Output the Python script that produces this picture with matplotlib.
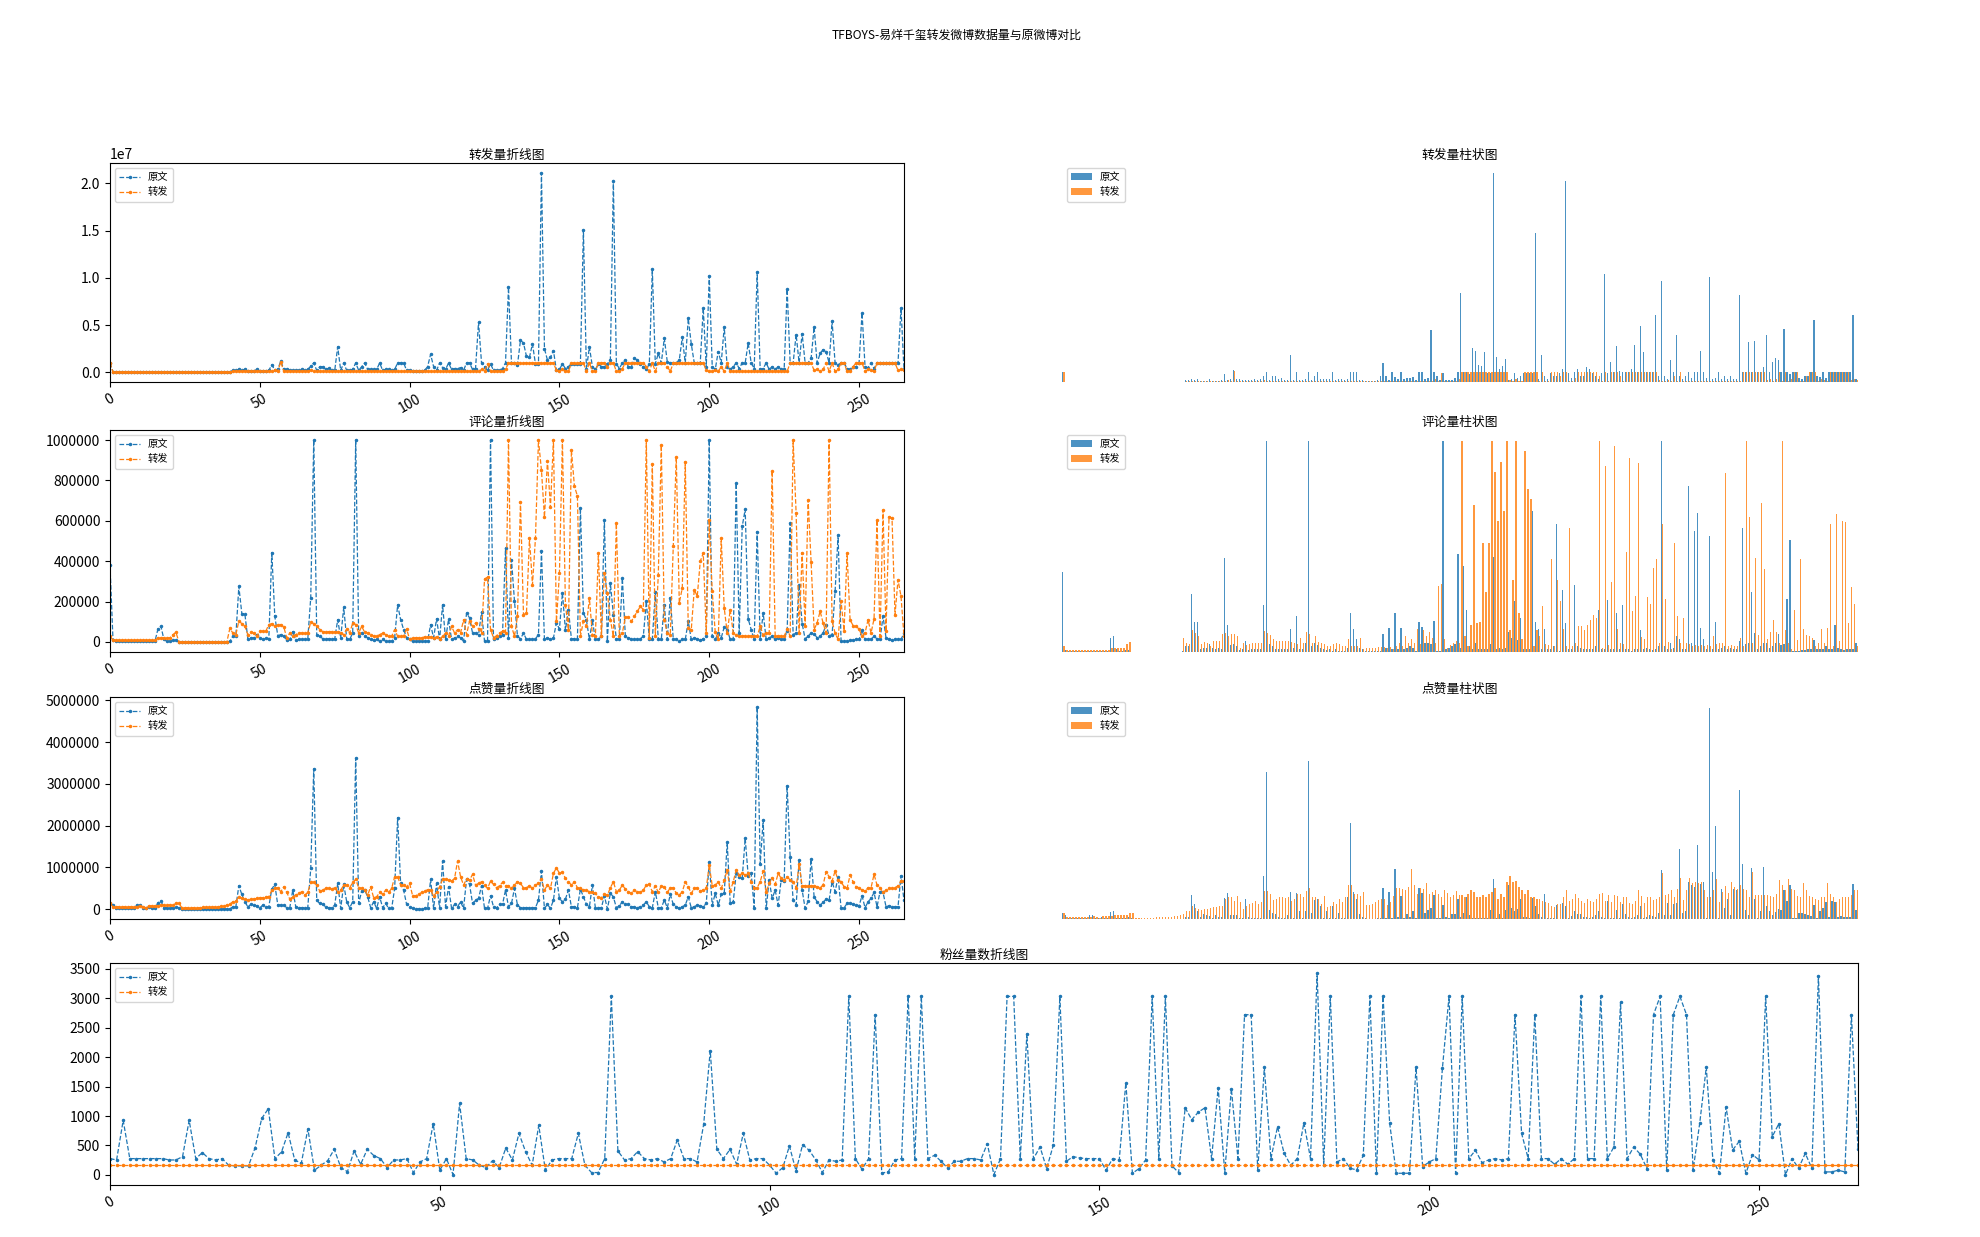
import numpy as np
import matplotlib
matplotlib.use('Agg')
import matplotlib.pyplot as plt
from matplotlib.ticker import MultipleLocator

plt.rcParams['font.family'] = ['Noto Sans CJK SC', 'DejaVu Sans']
plt.rcParams['axes.unicode_minus'] = False

series_names = ['原文', '转发']
suptitle_text = 'TFBOYS-易烊千玺转发微博数据量与原微博对比'
line_titles = ['转发量折线图', '评论量折线图', '点赞量折线图']
bar_titles = ['转发量柱状图', '评论量柱状图', '点赞量柱状图']
fans_title = '粉丝量数折线图'

# 转发量 (unit: 1e4)
repost_orig = [
    100, 5, 5, 5, 5, 5, 5, 5, 5, 5,
    5, 5, 5, 5, 5, 5, 5, 5, 5, 5,
    5, 5, 5, 5, 5, 5, 5, 5, 5, 5,
    5, 5, 5, 5, 5, 5, 5, 5, 5, 5,
    5, 20, 20, 30, 25, 30, 15, 15, 15, 30,
    15, 15, 15, 20, 80, 25, 30, 120, 30, 30,
    20, 20, 20, 20, 30, 20, 30, 65, 100, 20,
    60, 60, 30, 45, 20, 20, 270, 20, 100, 20,
    20, 30, 100, 20, 60, 100, 30, 30, 30, 30,
    100, 20, 30, 30, 20, 30, 100, 100, 100, 20,
    20, 15, 10, 10, 10, 20, 60, 190, 60, 20,
    100, 50, 30, 100, 30, 40, 40, 50, 20, 100,
    100, 30, 40, 530, 100, 60, 20, 90, 20, 20,
    20, 40, 100, 900, 100, 100, 80, 340, 310, 170,
    160, 300, 90, 90, 2110, 250, 130, 160, 230, 20,
    30, 90, 40, 60, 90, 90, 90, 90, 1510, 30,
    270, 60, 30, 90, 60, 60, 90, 130, 2030, 90,
    40, 100, 130, 60, 60, 150, 130, 90, 60, 30,
    90, 1090, 90, 200, 100, 360, 110, 100, 100, 100,
    130, 370, 100, 570, 300, 100, 100, 100, 680, 60,
    1020, 60, 30, 220, 100, 480, 60, 30, 60, 100,
    40, 100, 100, 310, 100, 40, 1060, 30, 40, 100,
    30, 60, 30, 60, 30, 30, 880, 100, 100, 400,
    100, 410, 100, 100, 150, 480, 100, 200, 240, 220,
    100, 540, 100, 80, 100, 100, 40, 30, 60, 60,
    100, 630, 60, 50, 100, 40, 100, 100, 100, 100,
    100, 100, 100, 100, 680, 30,
]
repost_fwd = [
    100, 3, 3, 3, 3, 3, 3, 3, 3, 3,
    3, 3, 3, 3, 3, 3, 3, 3, 3, 3,
    3, 3, 3, 3, 3, 3, 3, 3, 3, 3,
    3, 3, 3, 3, 3, 3, 3, 3, 3, 3,
    3, 10, 10, 10, 10, 10, 10, 10, 10, 10,
    10, 10, 10, 10, 10, 20, 10, 110, 10, 10,
    10, 10, 10, 10, 10, 10, 10, 20, 10, 10,
    10, 10, 10, 10, 10, 10, 10, 10, 10, 10,
    10, 10, 10, 10, 10, 10, 10, 10, 10, 10,
    10, 10, 10, 10, 10, 10, 10, 10, 10, 10,
    10, 10, 10, 10, 10, 10, 10, 10, 10, 10,
    10, 10, 10, 10, 10, 10, 10, 10, 10, 10,
    10, 10, 10, 10, 30, 10, 90, 10, 10, 10,
    10, 10, 30, 100, 100, 100, 100, 100, 100, 100,
    100, 100, 100, 100, 100, 100, 100, 100, 100, 20,
    10, 30, 10, 10, 100, 100, 100, 100, 100, 10,
    100, 10, 10, 100, 100, 100, 60, 100, 100, 10,
    10, 40, 100, 100, 100, 100, 100, 100, 100, 60,
    10, 100, 10, 100, 100, 100, 60, 10, 100, 100,
    100, 100, 100, 100, 100, 100, 100, 100, 100, 20,
    10, 10, 20, 10, 60, 10, 100, 10, 10, 10,
    10, 10, 10, 10, 10, 10, 10, 10, 10, 10,
    10, 10, 10, 10, 10, 10, 10, 100, 100, 100,
    100, 100, 100, 100, 100, 20, 30, 10, 30, 100,
    10, 100, 10, 30, 100, 100, 10, 10, 60, 100,
    100, 100, 10, 30, 20, 10, 100, 100, 100, 100,
    100, 100, 100, 20, 30, 20,
]

# 评论量 (unit: 1e3)
comment_orig = [
    380, 8, 3, 3, 3, 3, 3, 3, 3, 3,
    3, 3, 3, 3, 3, 3, 64, 77, 12, 3,
    3, 8, 8, 0, 0, 0, 0, 0, 0, 0,
    0, 0, 0, 0, 0, 0, 0, 0, 0, 0,
    3, 28, 28, 275, 140, 140, 16, 20, 20, 36,
    20, 12, 20, 12, 443, 127, 31, 36, 28, 8,
    12, 51, 8, 12, 12, 12, 12, 220, 1000, 36,
    28, 16, 15, 15, 15, 15, 110, 20, 171, 15,
    12, 44, 1000, 28, 44, 31, 20, 15, 8, 12,
    3, 12, 3, 3, 3, 20, 184, 110, 61, 20,
    12, 3, 3, 3, 3, 3, 3, 86, 20, 115,
    12, 184, 12, 113, 12, 20, 28, 20, 3, 143,
    119, 44, 44, 36, 147, 3, 3, 1000, 12, 20,
    28, 36, 464, 20, 407, 201, 28, 15, 44, 12,
    12, 12, 15, 36, 448, 12, 20, 12, 20, 94,
    64, 242, 58, 160, 15, 15, 12, 665, 143, 110,
    12, 107, 12, 12, 28, 604, 3, 292, 135, 16,
    12, 316, 28, 20, 15, 12, 12, 15, 28, 201,
    12, 12, 245, 12, 12, 184, 12, 220, 12, 12,
    3, 12, 12, 102, 12, 20, 15, 8, 15, 28,
    1000, 28, 12, 44, 20, 74, 61, 12, 12, 786,
    44, 572, 657, 114, 61, 12, 547, 12, 143, 12,
    20, 28, 12, 20, 12, 15, 53, 588, 36, 44,
    283, 91, 15, 28, 44, 41, 20, 28, 44, 86,
    31, 36, 250, 530, 3, 3, 3, 8, 8, 12,
    12, 58, 12, 12, 12, 28, 15, 12, 127, 20,
    12, 8, 12, 12, 12, 44,
]
comment_fwd = [
    28, 8, 8, 8, 8, 8, 8, 8, 8, 8,
    8, 8, 8, 8, 8, 8, 20, 20, 20, 20,
    20, 36, 48, 0, 0, 0, 0, 0, 0, 0,
    0, 0, 0, 0, 0, 0, 0, 0, 0, 0,
    67, 44, 36, 102, 91, 77, 36, 48, 44, 28,
    53, 53, 53, 86, 91, 77, 86, 86, 74, 20,
    44, 31, 36, 44, 44, 44, 44, 97, 91, 81,
    61, 51, 51, 51, 51, 51, 48, 44, 36, 64,
    44, 94, 86, 44, 77, 48, 44, 36, 28, 28,
    36, 44, 36, 28, 28, 61, 28, 28, 28, 64,
    12, 20, 20, 20, 20, 25, 25, 25, 20, 25,
    12, 28, 44, 28, 77, 44, 61, 44, 110, 36,
    104, 77, 94, 64, 44, 311, 321, 61, 20, 31,
    44, 53, 44, 1000, 77, 28, 127, 695, 135, 143,
    514, 283, 514, 1000, 851, 618, 898, 667, 1000, 102,
    341, 1000, 184, 61, 950, 772, 723, 28, 102, 77,
    217, 36, 31, 440, 28, 341, 242, 110, 28, 588,
    28, 44, 122, 122, 102, 127, 152, 176, 160, 1000,
    20, 881, 31, 333, 975, 110, 44, 36, 473, 917,
    193, 267, 893, 69, 61, 259, 226, 399, 440, 44,
    604, 250, 48, 12, 514, 168, 44, 160, 44, 36,
    28, 31, 28, 31, 28, 31, 28, 77, 36, 44,
    44, 848, 28, 31, 28, 28, 64, 28, 1000, 637,
    44, 443, 81, 703, 394, 61, 94, 152, 94, 44,
    1000, 102, 44, 12, 201, 56, 440, 110, 81, 77,
    64, 28, 44, 110, 44, 114, 604, 28, 654, 53,
    621, 613, 135, 308, 226, 28,
]

# 点赞量 (unit: 1e3)
likes_orig = [
    136, 96, 16, 16, 16, 16, 16, 16, 16, 96,
    96, 32, 16, 48, 32, 16, 152, 192, 32, 32,
    32, 32, 56, 32, 5, 5, 5, 5, 5, 5,
    5, 5, 5, 5, 5, 5, 5, 5, 5, 5,
    5, 56, 56, 560, 352, 176, 56, 112, 96, 80,
    32, 96, 56, 56, 480, 592, 96, 96, 96, 32,
    32, 456, 56, 32, 32, 32, 32, 976, 3360, 208,
    136, 112, 56, 32, 32, 96, 616, 16, 592, 176,
    32, 176, 3616, 136, 432, 456, 296, 32, 176, 16,
    296, 32, 136, 16, 16, 496, 2192, 616, 456, 112,
    56, 16, 5, 5, 5, 16, 16, 712, 16, 616,
    16, 1152, 56, 536, 16, 112, 56, 176, 16, 712,
    592, 136, 216, 256, 560, 16, 16, 320, 56, 32,
    112, 112, 456, 56, 136, 496, 96, 32, 32, 32,
    32, 32, 32, 216, 912, 16, 112, 16, 216, 776,
    256, 176, 240, 456, 56, 56, 32, 480, 296, 112,
    56, 576, 32, 32, 32, 320, 5, 376, 296, 32,
    80, 176, 112, 112, 56, 56, 32, 56, 96, 176,
    56, 32, 416, 32, 32, 216, 32, 352, 112, 56,
    16, 56, 96, 296, 32, 56, 96, 80, 56, 136,
    1120, 96, 376, 96, 352, 376, 1600, 136, 176, 856,
    776, 736, 1696, 800, 856, 32, 4840, 1072, 2136, 16,
    696, 256, 456, 96, 696, 672, 2960, 1256, 216, 96,
    1176, 456, 16, 192, 1200, 296, 176, 96, 160, 240,
    216, 656, 416, 776, 32, 32, 136, 136, 112, 96,
    80, 320, 32, 176, 256, 400, 56, 416, 400, 56,
    80, 56, 56, 56, 800, 216,
]
likes_fwd = [
    136, 56, 56, 56, 56, 56, 56, 56, 56, 56,
    80, 56, 32, 80, 80, 80, 80, 96, 96, 96,
    96, 96, 136, 136, 32, 32, 32, 32, 32, 32,
    32, 40, 40, 40, 48, 48, 56, 64, 72, 96,
    120, 176, 192, 296, 256, 240, 216, 240, 240, 256,
    272, 272, 296, 296, 456, 496, 512, 416, 536, 400,
    240, 296, 336, 376, 416, 336, 400, 640, 640, 576,
    432, 456, 496, 496, 480, 512, 416, 456, 576, 576,
    512, 640, 712, 512, 496, 456, 336, 536, 272, 296,
    400, 352, 456, 400, 496, 776, 776, 576, 576, 536,
    616, 320, 320, 352, 400, 432, 464, 456, 320, 400,
    536, 712, 712, 696, 672, 736, 1152, 776, 576, 720,
    696, 832, 576, 616, 656, 576, 496, 672, 592, 512,
    560, 640, 560, 560, 496, 576, 656, 616, 512, 512,
    560, 496, 576, 616, 720, 456, 576, 496, 856, 992,
    856, 880, 736, 656, 576, 656, 512, 496, 456, 456,
    416, 400, 376, 296, 272, 352, 336, 512, 656, 416,
    456, 576, 480, 416, 376, 456, 416, 400, 456, 576,
    592, 416, 560, 400, 560, 536, 400, 512, 512, 376,
    336, 416, 656, 536, 376, 496, 512, 432, 456, 496,
    1056, 560, 576, 656, 496, 696, 936, 432, 656, 936,
    816, 856, 816, 856, 656, 512, 512, 656, 912, 400,
    616, 752, 592, 856, 736, 696, 776, 696, 656, 512,
    1072, 560, 560, 560, 560, 560, 536, 512, 576, 896,
    776, 672, 912, 696, 656, 536, 496, 816, 656, 536,
    512, 456, 432, 512, 512, 832, 576, 512, 400, 456,
    496, 496, 512, 560, 672, 672,
]

# 粉丝量数
fans_orig = [
    277, 254, 927, 277, 277, 277, 277, 277, 277, 254,
    254, 311, 927, 277, 379, 277, 254, 277, 164, 153,
    153, 153, 463, 960, 1124, 277, 390, 717, 254, 198,
    780, 79, 164, 243, 435, 124, 56, 407, 181, 435,
    328, 277, 124, 254, 254, 277, 40, 220, 277, 870,
    79, 277, 5, 1215, 277, 254, 164, 124, 243, 124,
    458, 254, 706, 396, 164, 842, 79, 254, 277, 277,
    277, 706, 164, 40, 40, 277, 3034, 407, 254, 277,
    396, 277, 254, 277, 220, 277, 593, 277, 277, 220,
    859, 2113, 435, 277, 435, 181, 706, 254, 277, 277,
    164, 28, 124, 492, 68, 514, 418, 254, 40, 254,
    232, 254, 3034, 277, 96, 277, 2723, 28, 56, 254,
    277, 3034, 277, 3034, 277, 333, 232, 113, 232, 232,
    277, 277, 254, 531, 5, 277, 3034, 3034, 277, 2396,
    277, 475, 107, 503, 3034, 232, 311, 288, 277, 277,
    277, 79, 277, 254, 1565, 28, 107, 254, 3034, 277,
    3034, 153, 40, 1141, 938, 1068, 1141, 277, 1480, 40,
    1463, 277, 2723, 2723, 79, 1830, 277, 819, 367, 164,
    277, 887, 277, 3430, 164, 3034, 220, 277, 113, 85,
    333, 3034, 28, 3034, 876, 28, 28, 28, 1830, 141,
    220, 277, 1819, 3034, 28, 3034, 277, 418, 209, 254,
    277, 254, 277, 2723, 706, 277, 2723, 277, 277, 181,
    277, 181, 277, 3034, 277, 277, 3034, 277, 475, 2932,
    277, 475, 350, 107, 2723, 3034, 79, 2723, 3034, 2723,
    79, 876, 1830, 254, 28, 1153, 424, 571, 28, 345,
    254, 3034, 650, 870, 0, 277, 113, 367, 113, 3384,
    51, 51, 79, 51, 2723, 435,
]
fans_fwd = [160] * len(fans_orig)

repost = [np.array(repost_orig) * 1e4, np.array(repost_fwd) * 1e4]
comments = [np.array(comment_orig) * 1e3, np.array(comment_fwd) * 1e3]
likes = [np.array(likes_orig) * 1e3, np.array(likes_fwd) * 1e3]
fans = [np.array(fans_orig), np.array(fans_fwd)]
x = np.arange(len(fans_orig))

TITLE_FS = 9.2
LEG_FS = 7.4

fig = plt.figure(figsize=(19.8, 12.37), dpi=100)
fig.suptitle(suptitle_text, x=0.483, y=0.9765, fontsize=8.6)

W, H = 1980.0, 1237.0
def rect(x0, y0, x1, y1):
    return [x0 / W, 1 - y1 / H, (x1 - x0) / W, (y1 - y0) / H]

row_px = [(163, 382), (430, 652), (697, 919)]
datasets = [repost, comments, likes]

for i, (y0, y1) in enumerate(row_px):
    data = datasets[i]
    ax = fig.add_axes(rect(110, y0, 904, y1))
    for k in range(2):
        ax.plot(x, data[k], '.--', lw=0.9, ms=3, label=series_names[k])
    ax.set_xlim(0, len(x) - 1)
    ax.set_title(line_titles[i], fontsize=TITLE_FS, pad=3)
    ax.legend(loc='upper left', fontsize=LEG_FS)
    if i > 0:
        ax.ticklabel_format(axis='y', style='plain')
    for lab in ax.get_xticklabels():
        lab.set_rotation(30)

    axb = fig.add_axes(rect(1062, y0, 1858, y1))
    wdt = 0.4
    axb.bar(x, data[0], width=wdt, alpha=0.8, label=series_names[0])
    axb.bar(x + wdt, data[1], width=wdt, alpha=0.8, label=series_names[1])
    axb.set_xlim(-0.3, len(x) - 0.3)
    axb.axis('off')
    axb.set_title(bar_titles[i], fontsize=TITLE_FS, pad=3)
    axb.legend(loc='upper left', fontsize=LEG_FS)

axf = fig.add_axes(rect(110, 963, 1858, 1185))
for k in range(2):
    axf.plot(x, fans[k], '.--', lw=0.9, ms=3, label=series_names[k])
axf.set_xlim(0, len(x) - 1)
axf.yaxis.set_major_locator(MultipleLocator(500))
axf.set_title(fans_title, fontsize=TITLE_FS, pad=3)
axf.legend(loc='upper left', fontsize=LEG_FS)
for lab in axf.get_xticklabels():
    lab.set_rotation(30)

fig.savefig('out.png', dpi=100)
